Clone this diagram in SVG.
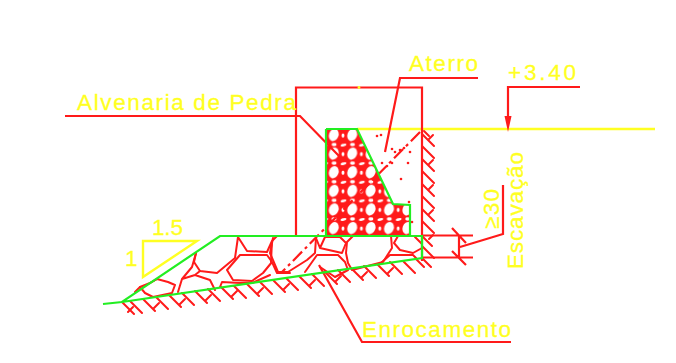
<svg xmlns="http://www.w3.org/2000/svg" width="676" height="363" viewBox="0 0 676 363">
<style>
.r{fill:none;stroke:#ff1a1a;stroke-width:2.2;stroke-linejoin:miter}
.rt{fill:none;stroke:#ff1a1a;stroke-width:2;stroke-linejoin:round;stroke-linecap:round}
.g{fill:none;stroke:#22ee22;stroke-width:2.2;stroke-linejoin:miter}
.y{fill:none;stroke:#ffff22;stroke-width:2.4}
.t{fill:#ffff22;stroke:#ffff22;stroke-width:.3;font-family:"Liberation Sans",Arial,sans-serif;font-size:22.5px;font-weight:400}
.d{fill:#ff1a1a}
</style>
<defs>
<pattern id="stone" patternUnits="userSpaceOnUse" x="324.600" y="126" width="18.400" height="18.600">
<rect width="18.400" height="18.600" fill="#ff1a1a"/>
<ellipse cx="9.200" cy="9" rx="4.800" ry="6.200" transform="rotate(20 9.200 9)" fill="#fff"/>
<ellipse cx="0.500" cy="0.500" rx="3" ry="1.300" transform="rotate(-15 0.500 0.500)" fill="#fff"/>
<ellipse cx="18.900" cy="0.500" rx="3" ry="1.300" transform="rotate(-15 18.900 0.500)" fill="#fff"/>
<ellipse cx="0.500" cy="19.100" rx="3" ry="1.300" transform="rotate(-15 0.500 19.100)" fill="#fff"/>
<ellipse cx="18.900" cy="19.100" rx="3" ry="1.300" transform="rotate(-15 18.900 19.100)" fill="#fff"/>
<ellipse cx="9.500" cy="0.600" rx="2.400" ry="1" fill="#fff"/>
<ellipse cx="9.500" cy="18" rx="2.400" ry="1" fill="#fff"/>
<ellipse cx="0.400" cy="9.500" rx="1" ry="2" fill="#fff"/>
<ellipse cx="18" cy="9.500" rx="1" ry="2" fill="#fff"/>
</pattern>
</defs>

<path class="y" d="M357 129H655"/>
<path class="y" d="M143 241H197L143 277Z"/>

<polygon points="326,129 357,129 393,204 410,205 410,235 326,235" fill="url(#stone)"/>

<g id="rocks">
<path class="rt" d="M196 253L194 262L200 271L217 273L235 258L238 237M238 237L247 251L267 252L272 241L277 236M272 241L271 262"/>
<path class="rt" d="M227 270L240 255L267 255L272 262L263 273L252 281L233 280ZM272 262L277 273L290 273"/>
<path class="rt" d="M140 287L150 283L157 279L168 282L175 285L172 293L153 297L145 293ZM196 253L192 267L182 279L178 292M182 279L195 275L210 280L215 290M200 271L195 275"/>
<path class="rt" d="M220 287L222 282L240 283L252 283L270 275M135 292L140 287M157 279L150 283"/>
<path class="rt" d="M273 238L270 253L278 272L288 272L307 260L315 253L316 238"/>
<path class="rt" d="M320 248L325 237L340 237L346 243L342 253ZM316 238L320 248"/>
<path class="rt" d="M391 236L392 248L383 262L352 270L348 263L346 253L347 242L353 236"/>
<path class="rt" d="M305 272L317 255L338 255L345 262L348 270L335 277M320 267L335 277"/>
<path class="rt" d="M398 236L394 243L400 250L413 253L422 248M422 244L415 237M390 255L413 255L416 258M390 255L382 262"/>
</g>

<g id="connectors">
<path class="r" d="M296 236V87.500H422V261"/>
<path class="r" d="M65 116H300L340 157"/>
<path class="r" d="M385 152L400 78H478"/>
<path class="r" d="M319 265L362 342H511"/>
<path class="r" d="M580 87H508V116"/>
<path class="d" d="M504.500 116H511.500L508 132Z"/>
<path class="r" stroke-dasharray="13 4 3 4" d="M420 132L282 272"/>
<path class="r" d="M422 235.500H473M422 257.500H473M459 235V258M452 228L466 243M452 251L466 265M460 247L503 234V185"/>
</g>

<g id="hatch">
<path class="rt" d="M422 134l12 12M422 146l12 12M422 159l12 12M422 171l12 12M422 184l12 12M422 196l12 12M422 209l12 12M422 221l12 12M422 246l12 12M422 258l9 9M422 236l10 10"/>
<path class="rt" d="M424 131l5 5M429 139l4-4M429 164l4-4M429 189l4-4M429 214l4-4M429 239l4-4"/>
<path class="rt" d="M122 302l12 12M130 301l12 12M143 299l12 12M156 297l12 12M169 295l12 12M182 293l12 12M195 291l12 12M208 289l12 12M221 287l12 12M234 286l12 12M247 284l12 12M260 282l12 12M273 280l12 12M286 278l12 12M299 276l12 12M312 274l12 12M325 272l12 12M338 270l12 12M351 268l12 12M364 266l12 12M377 264l12 12M390 262l12 12M403 261l12 12M416 259l8 8"/>
<path class="rt" d="M128 312l5-5M154 308l5-5M180 304l5-5M206 300l5-5M232 296l5-5M258 293l5-5M284 289l5-5M310 285l5-5M336 281l5-5M362 277l5-5M388 273l5-5"/>
</g>

<g id="fill-dots" fill="#ff1a1a">
<circle cx="377" cy="136" r="1.300"/><circle cx="381" cy="135" r="1.300"/><circle cx="392" cy="149" r="1.300"/><circle cx="395" cy="152" r="1.300"/><circle cx="400" cy="150" r="1.300"/><circle cx="404" cy="148" r="1.300"/><circle cx="410" cy="152" r="1.300"/><circle cx="382" cy="163" r="1.300"/><circle cx="387" cy="166" r="1.300"/><circle cx="392" cy="163" r="1.300"/><circle cx="408" cy="163" r="1.300"/><circle cx="401" cy="179" r="1.300"/><circle cx="409" cy="202" r="1.300"/><circle cx="412" cy="222" r="1.300"/>
</g>

<path class="g" d="M326 129H357L393 204L410 205V235M326 129V236"/>
<path class="g" d="M103 304L122 302L220 236H422V258L122 302"/>
<circle cx="359" cy="87.500" r="1.400" fill="#ffff22"/>

<g id="labels">
<text class="t" x="77" y="110" textLength="219" lengthAdjust="spacing">Alvenaria de Pedra</text>
<text class="t" x="409" y="71" textLength="69" lengthAdjust="spacing">Aterro</text>
<text class="t" x="508" y="80" textLength="68" lengthAdjust="spacing">+3.40</text>
<text class="t" x="152" y="235" textLength="31" lengthAdjust="spacing">1.5</text>
<text class="t" x="125" y="266">1</text>
<text class="t" x="362" y="337" textLength="149" lengthAdjust="spacing">Enrocamento</text>
<text class="t" transform="translate(523 269) rotate(-90)" textLength="117" lengthAdjust="spacing">Escavação</text>
<text class="t" transform="translate(499 229) rotate(-90)" textLength="40" lengthAdjust="spacing">≥30</text>
</g>
</svg>
